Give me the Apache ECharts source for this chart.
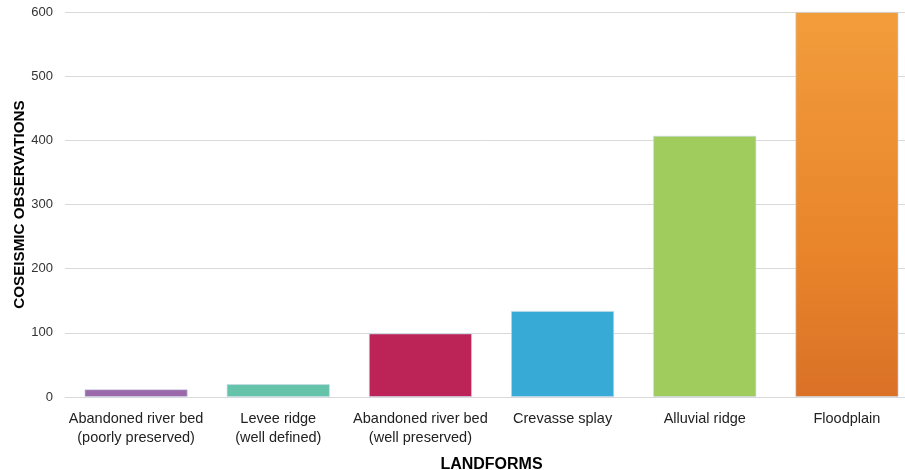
<!DOCTYPE html>
<html><head><meta charset="utf-8">
<script src="https://cdn.jsdelivr.net/npm/echarts@6/dist/echarts.min.js"></script>
<style>html,body{margin:0;padding:0;background:#fff}#c{width:905px;height:470px}</style>
</head><body><div id="c"></div>
<script>
const categories = ["Abandoned river bed\n(poorly preserved)", "Levee ridge\n(well defined)", "Abandoned river bed\n(well preserved)", "Crevasse splay", "Alluvial ridge", "Floodplain"];
const values = [12, 20, 99, 134, 407, 600];
const barColors = ["#9B69AA", "#64C3A8", "#BC2357", "#38AAD6", "#A0CC5E", null];
const yTicks = [0, 100, 200, 300, 400, 500, 600];

const floodGradient = new echarts.graphic.LinearGradient(0, 0, 0, 1, [
  {offset: 0, color: "#F29D3C"},
  {offset: 0.65, color: "#E8832A"},
  {offset: 1, color: "#DA7127"}
]);

const chart = echarts.init(document.getElementById('c'), null, {renderer: 'canvas'});
chart.setOption({
  animation: false,
  textStyle: {fontFamily: "Liberation Sans"},
  grid: {left: 65, right: -13, top: 12, bottom: 73, containLabel: false, outerBoundsMode: 'none'},
  xAxis: {
    type: 'category', data: categories,
    name: 'LANDFORMS', nameLocation: 'middle', nameGap: 60, nameMoveOverlap: false,
    nameTextStyle: {fontSize: 16, fontWeight: 'bold', color: '#000'},
    axisLine: {show: true, lineStyle: {color: '#D9D9D9'}},
    axisTick: {show: false},
    axisLabel: {color: '#222', fontSize: 14.5, lineHeight: 19, margin: 12, interval: 0}
  },
  yAxis: {
    type: 'value', min: 0, max: 600, interval: 100,
    name: 'COSEISMIC OBSERVATIONS', nameLocation: 'middle', nameGap: 38, nameMoveOverlap: false,
    nameTextStyle: {fontSize: 15.2, fontWeight: 'bold', color: '#000'},
    axisLine: {show: false}, axisTick: {show: false},
    axisLabel: {color: '#333', fontSize: 13, margin: 12},
    splitLine: {lineStyle: {color: '#D9D9D9'}}
  },
  series: [{
    type: 'bar', barCategoryGap: '27.5%',
    data: values.map((v, i) => ({value: v, itemStyle: {color: barColors[i] || floodGradient}})),
    itemStyle: {borderColor: 'rgba(200,215,235,0.8)', borderWidth: 0.8}
  }]
});
</script></body></html>
